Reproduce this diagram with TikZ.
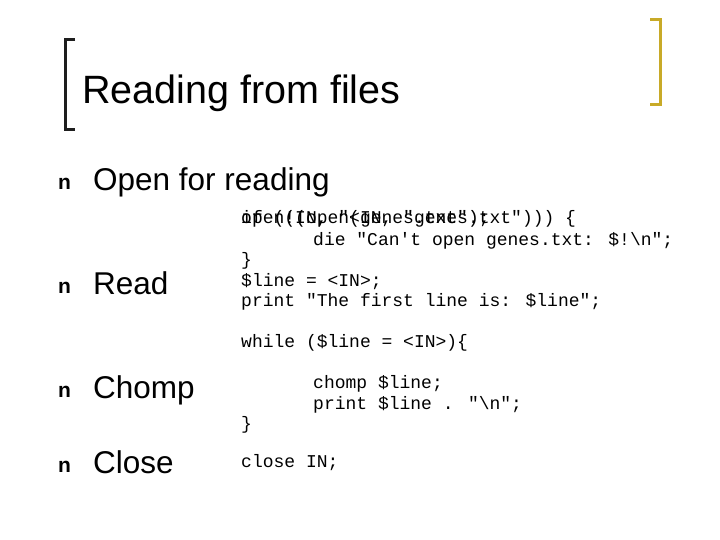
\documentclass[tikz,border=0pt]{standalone}
\usepackage{fontspec}
\setmainfont{Liberation Sans}
\newfontfamily\codefont{Liberation Mono}
\definecolor{brk}{RGB}{200,170,40}
\definecolor{brk2}{RGB}{30,30,30}
\begin{document}
\begin{tikzpicture}[x=1pt,y=-1pt,
  code/.style={anchor=base west,inner sep=0,font=\codefont\fontsize{18}{20}\selectfont},
  bul/.style={anchor=base west,inner sep=0,font=\bfseries\fontsize{21}{22}\selectfont},
  item/.style={anchor=base west,inner sep=0,font=\fontsize{31.5}{34}\selectfont}]
\useasboundingbox[fill=white] (0,0) rectangle (720,540);
\draw[brk2,line width=3pt] (75,40) -- (65,40) -- (65,130) -- (75,130);
\draw[brk,line width=3pt] (650,20) -- (660,20) -- (660,105) -- (650,105);
\node[item,font=\fontsize{39.5}{42}\selectfont] (title) at (82,104) {Reading from files};
\node[bul] (b1) at (58,190) {n};
\node[bul] (b2) at (58,293) {n};
\node[bul] (b3) at (58,397) {n};
\node[bul] (b4) at (58,472) {n};
\node[item] (i1) at (93,191) {Open for reading};
\node[item] (i2) at (93,294) {Read};
\node[item] (i3) at (93,398) {Chomp};
\node[item] (i4) at (93,473) {Close};
\node[code] (c1) at (241,224) {open(IN, "<genes.txt");};
\node[code] (c1b) at (241,224) {if (!(open(IN, "genes.txt"))) \{};
\node[code] (c2) at (313,245) {die "Can't open genes.txt: \$!\textbackslash n";};
\node[code] (c3) at (241,265) {\}};
\node[code] (c4) at (241,286) {\$line = <IN>;};
\node[code] (c5) at (241,306) {print "The first line is: \$line";};
\node[code] (c6) at (241,347) {while (\$line = <IN>)\{};
\node[code] (c7) at (313,388) {chomp \$line;};
\node[code] (c8) at (313,409) {print \$line . "\textbackslash n";};
\node[code] (c9) at (241,429) {\}};
\node[code] (c10) at (241,467) {close IN;};
\end{tikzpicture}
\end{document}
